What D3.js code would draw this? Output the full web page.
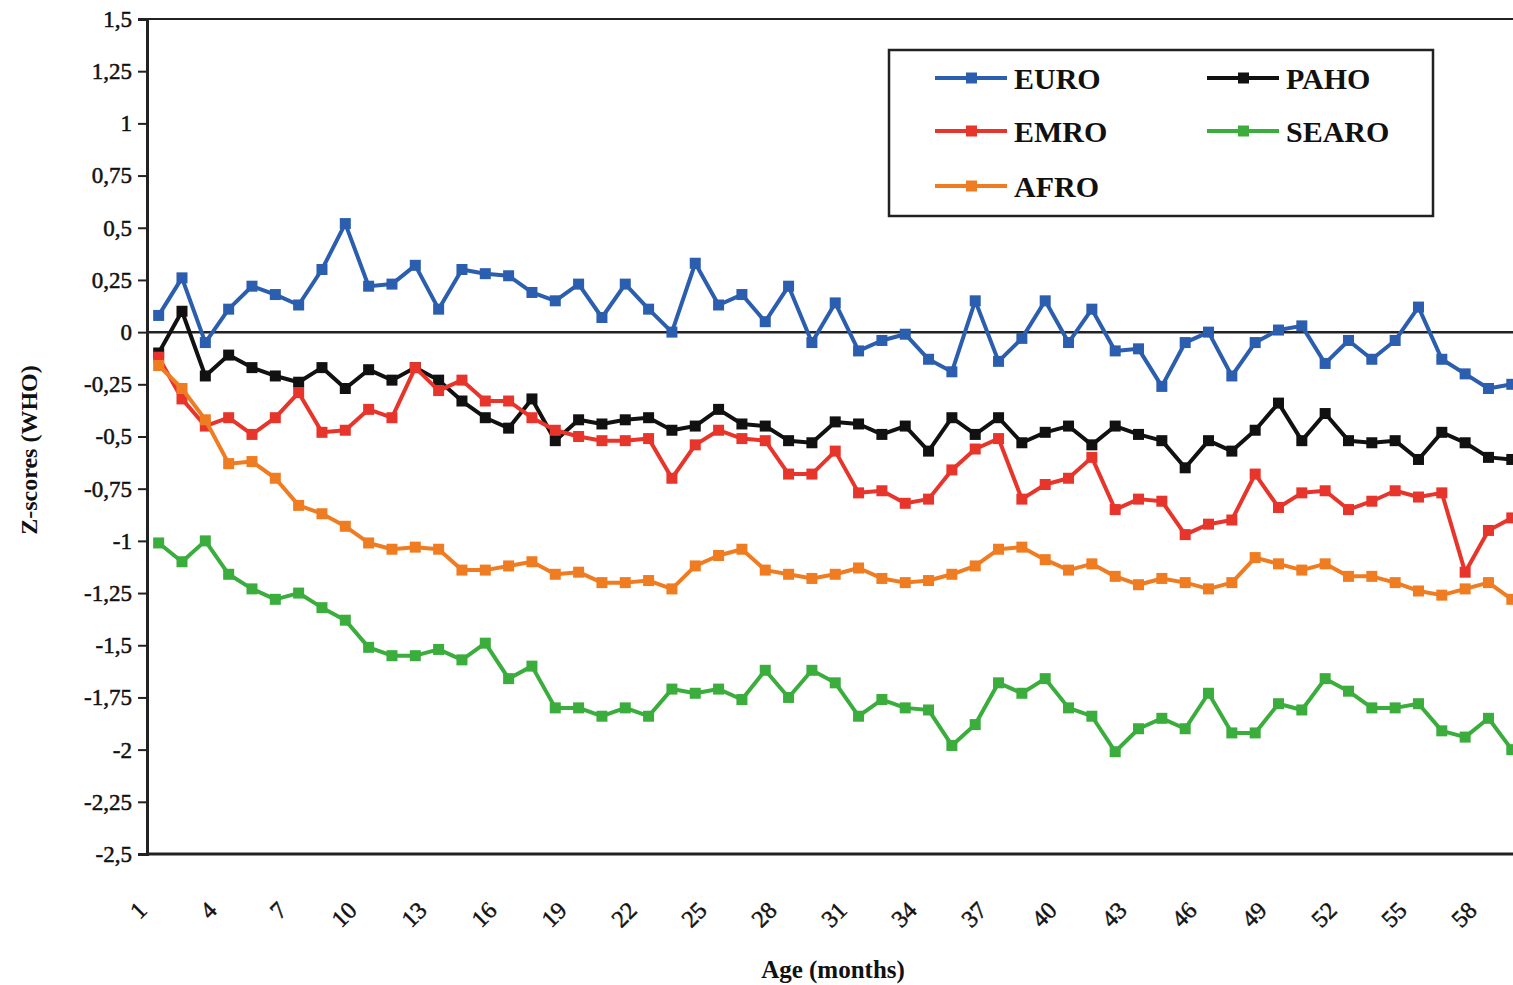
<!DOCTYPE html>
<html>
<head>
<meta charset="utf-8">
<script src="https://cdn.jsdelivr.net/npm/d3@7"></script>
<style>
  html, body { margin: 0; padding: 0; background: #fff; overflow: hidden; }
  text { font-family: "Liberation Serif", "Times New Roman", serif; fill: #111; }
</style>
</head>
<body>
<div id="chart"></div>
<script>
// z-scores per month (months 1..59 visible)
var euro = [0.08, 0.26, -0.05, 0.11, 0.22, 0.18, 0.13, 0.30, 0.52, 0.22, 0.23, 0.32, 0.11, 0.30, 0.28, 0.27, 0.19, 0.15, 0.23, 0.07,
            0.23, 0.11, 0.00, 0.33, 0.13, 0.18, 0.05, 0.22, -0.05, 0.14, -0.09, -0.04, -0.01, -0.13, -0.19, 0.15, -0.14, -0.03, 0.15, -0.05,
            0.11, -0.09, -0.08, -0.26, -0.05, 0.00, -0.21, -0.05, 0.01, 0.03, -0.15, -0.04, -0.13, -0.04, 0.12, -0.13, -0.20, -0.27, -0.25];
var paho = [-0.10, 0.10, -0.21, -0.11, -0.17, -0.21, -0.24, -0.17, -0.27, -0.18, -0.23, -0.17, -0.23, -0.33, -0.41, -0.46, -0.32, -0.52, -0.42, -0.44,
            -0.42, -0.41, -0.47, -0.45, -0.37, -0.44, -0.45, -0.52, -0.53, -0.43, -0.44, -0.49, -0.45, -0.57, -0.41, -0.49, -0.41, -0.53, -0.48, -0.45,
            -0.54, -0.45, -0.49, -0.52, -0.65, -0.52, -0.57, -0.47, -0.34, -0.52, -0.39, -0.52, -0.53, -0.52, -0.61, -0.48, -0.53, -0.60, -0.61];
var emro = [-0.12, -0.32, -0.45, -0.41, -0.49, -0.41, -0.29, -0.48, -0.47, -0.37, -0.41, -0.17, -0.28, -0.23, -0.33, -0.33, -0.41, -0.47, -0.50, -0.52,
            -0.52, -0.51, -0.70, -0.54, -0.47, -0.51, -0.52, -0.68, -0.68, -0.57, -0.77, -0.76, -0.82, -0.80, -0.66, -0.56, -0.51, -0.80, -0.73, -0.70,
            -0.60, -0.85, -0.80, -0.81, -0.97, -0.92, -0.90, -0.68, -0.84, -0.77, -0.76, -0.85, -0.81, -0.76, -0.79, -0.77, -1.15, -0.95, -0.89];
var searo = [-1.01, -1.10, -1.00, -1.16, -1.23, -1.28, -1.25, -1.32, -1.38, -1.51, -1.55, -1.55, -1.52, -1.57, -1.49, -1.66, -1.60, -1.80, -1.80, -1.84,
             -1.80, -1.84, -1.71, -1.73, -1.71, -1.76, -1.62, -1.75, -1.62, -1.68, -1.84, -1.76, -1.80, -1.81, -1.98, -1.88, -1.68, -1.73, -1.66, -1.80,
             -1.84, -2.01, -1.90, -1.85, -1.90, -1.73, -1.92, -1.92, -1.78, -1.81, -1.66, -1.72, -1.80, -1.80, -1.78, -1.91, -1.94, -1.85, -2.00];
var afro = [-0.16, -0.27, -0.42, -0.63, -0.62, -0.70, -0.83, -0.87, -0.93, -1.01, -1.04, -1.03, -1.04, -1.14, -1.14, -1.12, -1.10, -1.16, -1.15, -1.20,
            -1.20, -1.19, -1.23, -1.12, -1.07, -1.04, -1.14, -1.16, -1.18, -1.16, -1.13, -1.18, -1.20, -1.19, -1.16, -1.12, -1.04, -1.03, -1.09, -1.14,
            -1.11, -1.17, -1.21, -1.18, -1.20, -1.23, -1.20, -1.08, -1.11, -1.14, -1.11, -1.17, -1.17, -1.20, -1.24, -1.26, -1.23, -1.20, -1.28];

var seriesNames = ["EURO", "PAHO", "EMRO", "SEARO", "AFRO"];
var seriesColors = ["#2b5eae", "#111111", "#e8352b", "#3aad3d", "#f07c22"];
var xTickLabels = ["1", "4", "7", "10", "13", "16", "19", "22", "25", "28", "31", "34", "37", "40", "43", "46", "49", "52", "55", "58"];
var yTicks = [1.5, 1.25, 1, 0.75, 0.5, 0.25, 0, -0.25, -0.5, -0.75, -1, -1.25, -1.5, -1.75, -2, -2.25, -2.5];

var allSeries = [euro, paho, emro, searo, afro];

// stage
var width = 1513, height = 985;
var plotLeft = 147, plotTop = 19, plotBottom = 854;
var nCats = 60;
var catWidth = 23.33;

var svg = d3.select("#chart").append("svg")
    .attr("width", width)
    .attr("height", height);

var x = d3.scaleBand()
    .domain(d3.range(1, nCats + 1))
    .range([plotLeft, plotLeft + nCats * catWidth]);

var y = d3.scaleLinear()
    .domain([-2.5, 1.5])
    .range([plotBottom, plotTop]);

function cx(m) { return x(m) + x.bandwidth() / 2; }

// frame: top border + zero line
svg.append("line")
    .attr("x1", plotLeft).attr("x2", width)
    .attr("y1", y(1.5)).attr("y2", y(1.5))
    .style("stroke", "#222").style("stroke-width", 2);
svg.append("line")
    .attr("x1", plotLeft).attr("x2", width)
    .attr("y1", y(0)).attr("y2", y(0))
    .style("stroke", "#222").style("stroke-width", 2.5);

// y axis
var yAxis = svg.append("g")
    .attr("transform", "translate(" + plotLeft + ",0)")
    .call(d3.axisLeft(y).tickValues(yTicks).tickSize(9).tickPadding(6)
        .tickFormat(function(d) { return String(d).replace(".", ","); }));
yAxis.select(".domain").style("stroke", "#222").style("stroke-width", 3);
yAxis.selectAll(".tick line").style("stroke", "#222").style("stroke-width", 2);
yAxis.selectAll(".tick text")
    .style("font-size", "23px")
    .style("font-family", "'Liberation Serif', serif")
    .style("fill", "#111")
    .style("stroke", "#111").style("stroke-width", 0.5);

// x axis line
svg.append("line")
    .attr("x1", plotLeft - 1).attr("x2", width)
    .attr("y1", plotBottom).attr("y2", plotBottom)
    .style("stroke", "#222").style("stroke-width", 3);

// x tick labels (rotated)
svg.selectAll(".xlab")
    .data(xTickLabels)
    .enter().append("text")
    .attr("class", "xlab")
    .attr("transform", function(d) {
        return "translate(" + (cx(+d) - 16) + "," + (plotBottom + 52) + ") rotate(-45)";
    })
    .attr("text-anchor", "end")
    .attr("dominant-baseline", "central")
    .style("font-size", "24px")
    .style("stroke", "#111").style("stroke-width", 0.5)
    .text(function(d) { return d; });

// axis titles
svg.append("text")
    .attr("x", 833).attr("y", 978)
    .attr("text-anchor", "middle")
    .style("font-size", "25px").style("font-weight", "bold")
    .text("Age (months)");

svg.append("text")
    .attr("transform", "translate(37,450) rotate(-90)")
    .attr("text-anchor", "middle")
    .style("font-size", "24px").style("font-weight", "bold")
    .text("Z-scores (WHO)");

// lines and markers
var line = d3.line()
    .x(function(d, i) { return cx(i + 1); })
    .y(function(d) { return y(d); });

for (var k = 0; k < allSeries.length; k++) {
    var g = svg.append("g");
    g.append("path")
        .datum(allSeries[k])
        .attr("d", line)
        .style("fill", "none")
        .style("stroke", seriesColors[k])
        .style("stroke-width", 4)
        .style("stroke-linejoin", "round");
    g.selectAll("rect")
        .data(allSeries[k])
        .enter().append("rect")
        .attr("x", function(d, i) { return cx(i + 1) - 5.5; })
        .attr("y", function(d) { return y(d) - 5.5; })
        .attr("width", 11).attr("height", 11)
        .style("fill", seriesColors[k]);
}

// legend
var legend = svg.append("g");
legend.append("rect")
    .attr("x", 889).attr("y", 50)
    .attr("width", 544).attr("height", 166)
    .style("fill", "#fff").style("stroke", "#222").style("stroke-width", 2.5);

var legendCols = [935, 1207];
var legendRows = [78, 131, 186];
for (var k = 0; k < seriesNames.length; k++) {
    var lx = legendCols[k % 2], ly = legendRows[Math.floor(k / 2)];
    legend.append("line")
        .attr("x1", lx).attr("x2", lx + 72)
        .attr("y1", ly).attr("y2", ly)
        .style("stroke", seriesColors[k]).style("stroke-width", 4);
    legend.append("rect")
        .attr("x", lx + 31).attr("y", ly - 5.5)
        .attr("width", 11).attr("height", 11)
        .style("fill", seriesColors[k]);
    legend.append("text")
        .attr("x", lx + 79).attr("y", ly)
        .attr("dominant-baseline", "central")
        .style("font-size", "30px").style("font-weight", "bold")
        .text(seriesNames[k]);
}
</script>
</body>
</html>
